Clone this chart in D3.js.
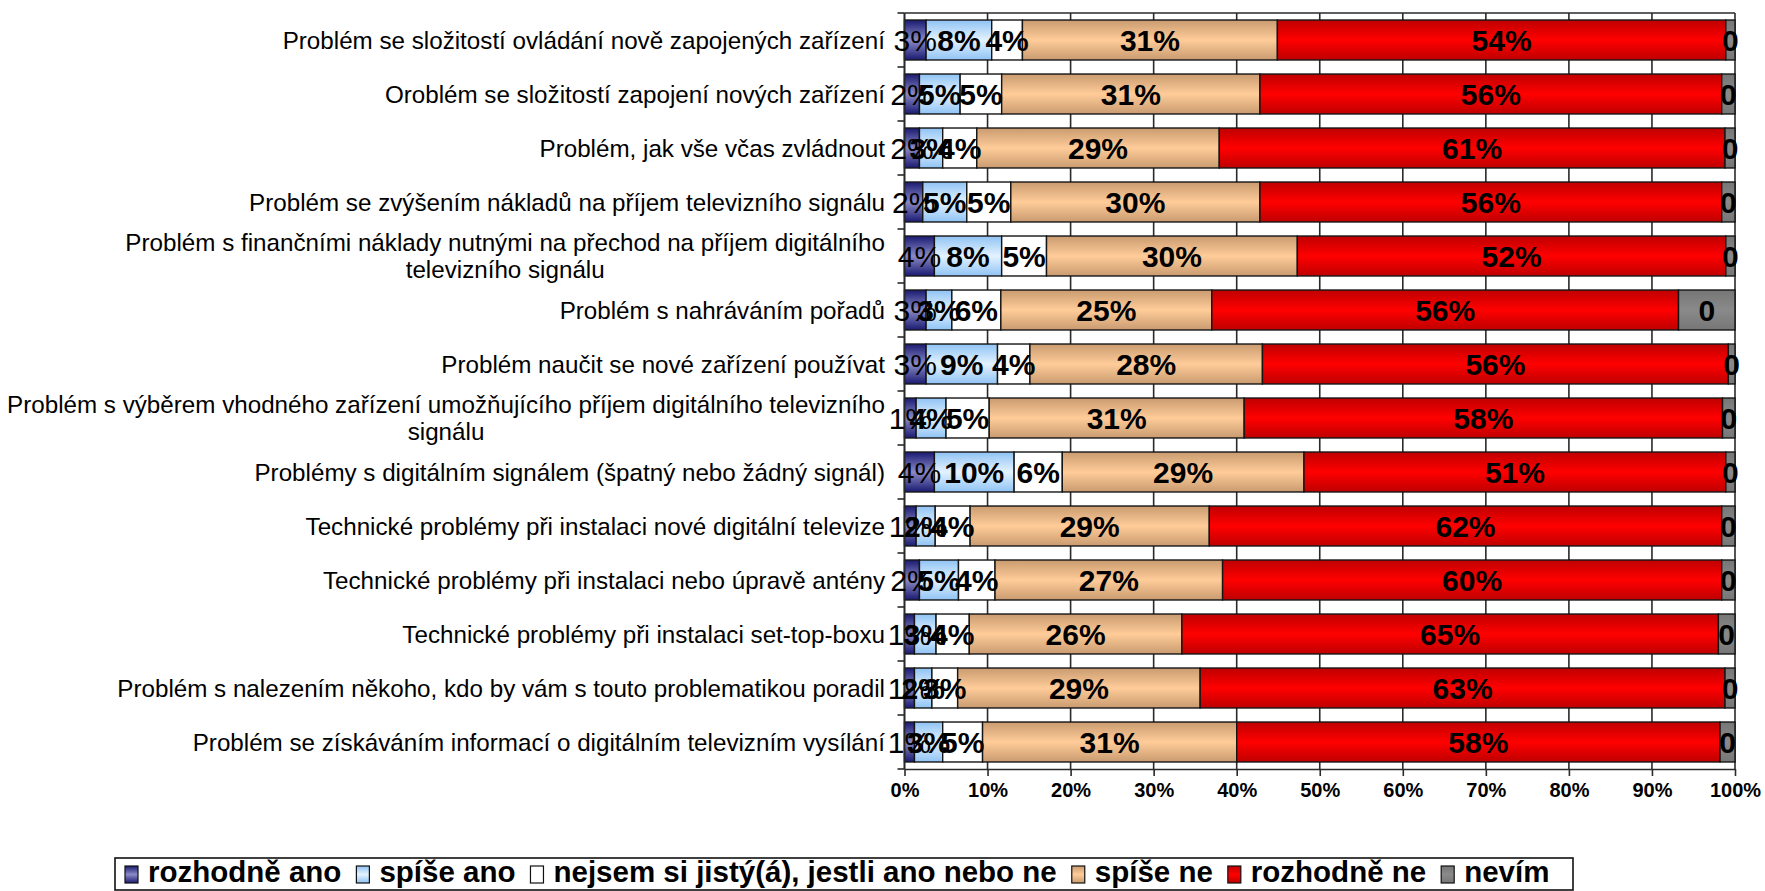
<!DOCTYPE html>
<html>
<head>
<meta charset="utf-8">
<script src="https://cdn.jsdelivr.net/npm/d3@7"></script>
<style>
  body { margin: 0; background: #ffffff; }
  svg { display: block; font-family: "Liberation Sans", Arial, sans-serif; }
</style>
</head>
<body>
<svg id="chart" width="1765" height="891"></svg>
<script>
// ---------- DATA ----------
const categories = [
  "Problém se složitostí ovládání nově zapojených zařízení",
  "Oroblém se složitostí zapojení nových zařízení",
  "Problém, jak vše včas zvládnout",
  "Problém se zvýšením nákladů na příjem televizního signálu",
  "Problém s finančními náklady nutnými na přechod na příjem digitálního\ntelevizního signálu",
  "Problém s nahráváním pořadů",
  "Problém naučit se nové zařízení používat",
  "Problém s výběrem vhodného zařízení umožňujícího příjem digitálního televizního\nsignálu",
  "Problémy s digitálním signálem (špatný nebo žádný signál)",
  "Technické problémy při instalaci nové digitální televize",
  "Technické problémy při instalaci nebo úpravě antény",
  "Technické problémy při instalaci set-top-boxu",
  "Problém s nalezením někoho, kdo by vám s touto problematikou poradil",
  "Problém se získáváním informací o digitálním televizním vysílání"
];
const seriesNames = ["rozhodně ano", "spíše ano", "nejsem si jistý(á), jestli ano nebo ne", "spíše ne", "rozhodně ne", "nevím"];
const rozhodneAno = [2.6, 1.8, 1.8, 2.2, 3.6, 2.6, 2.6, 1.4, 3.6, 1.4, 1.8, 1.2, 1.2, 1.2];
const spiseAno    = [7.9, 4.9, 2.8, 5.3, 8.1, 3.1, 8.6, 3.6, 9.6, 2.3, 4.7, 2.6, 2.1, 3.4];
const nejsem      = [3.7, 5.0, 4.1, 5.3, 5.4, 5.9, 3.9, 5.2, 5.8, 4.2, 4.4, 4.0, 3.1, 4.8];
const spiseNe     = [30.7, 31.1, 29.2, 30.0, 30.2, 25.4, 28.0, 30.7, 29.1, 28.8, 27.4, 25.6, 29.2, 30.6];
const rozhodneNe  = [54.0, 55.6, 60.9, 55.6, 51.6, 56.2, 56.1, 57.6, 50.8, 61.7, 60.1, 64.6, 63.2, 58.2];
const nevim       = [1.1, 1.6, 1.2, 1.6, 1.1, 6.8, 0.8, 1.5, 1.1, 1.6, 1.6, 2.0, 1.2, 1.8];
const xTicks = [0, 0.1, 0.2, 0.3, 0.4, 0.5, 0.6, 0.7, 0.8, 0.9, 1.0];

// ---------- STYLE ----------
const keys = ["a", "b", "c", "d", "e", "f"];
const seriesArrays = [rozhodneAno, spiseAno, nejsem, spiseNe, rozhodneNe, nevim];
const gradStops = [
  ["#1a1a72", "#8a8ac6", "#1a1a72"],
  ["#8fc3f4", "#e4f2ff", "#8fc3f4"],
  ["#ffffff", "#ffffff", "#ffffff"],
  ["#c99b70", "#ffcc99", "#c99b70"],
  ["#bf0000", "#ff0000", "#bf0000"],
  ["#767676", "#8a8a8a", "#767676"]
];
const FONT = '"Liberation Sans", Arial, sans-serif';

const table = categories.map((c, i) => {
  const row = { cat: i };
  keys.forEach((k, j) => row[k] = seriesArrays[j][i]);
  return row;
});
const stacked = d3.stack().keys(keys).offset(d3.stackOffsetExpand)(table);

const svg = d3.select("#chart");
const defs = svg.append("defs");
gradStops.forEach((s, j) => {
  const g = defs.append("linearGradient").attr("id", "g" + j)
    .attr("x1", 0).attr("y1", 0).attr("x2", 0).attr("y2", 1);
  g.append("stop").attr("offset", "0%").attr("stop-color", s[0]);
  g.append("stop").attr("offset", "50%").attr("stop-color", s[1]);
  g.append("stop").attr("offset", "100%").attr("stop-color", s[2]);
});

const plotTop = 13, plotBottom = 769;
const x = d3.scaleLinear().domain([0, 1]).range([904.5, 1735]);
const y = d3.scaleBand().domain(d3.range(categories.length))
  .range([plotTop, plotBottom]).paddingInner(0.26).paddingOuter(0.13);

// gridlines
svg.append("g").selectAll("line").data(xTicks).join("line")
  .attr("x1", d => x(d)).attr("x2", d => x(d))
  .attr("y1", plotTop).attr("y2", plotBottom)
  .attr("stroke", "#2a2a2a").attr("stroke-width", 1.6);
// top border
svg.append("line").attr("x1", x(0)).attr("x2", x(1)).attr("y1", plotTop).attr("y2", plotTop)
  .attr("stroke", "#2a2a2a").attr("stroke-width", 1.6);

// bars
const layers = svg.append("g").selectAll("g").data(stacked).join("g")
  .attr("fill", (d, j) => `url(#g${j})`);
layers.selectAll("rect").data(d => d).join("rect")
  .attr("x", d => x(d[0]))
  .attr("width", d => x(d[1]) - x(d[0]))
  .attr("y", d => y(d.data.cat))
  .attr("height", y.bandwidth())
  .attr("stroke", "#151515").attr("stroke-width", 1.4);

// bottom axis
const xAxis = d3.axisBottom(x).tickValues(xTicks).tickFormat(d3.format(".0%")).tickSize(7).tickSizeOuter(0);
const gx = svg.append("g").attr("transform", `translate(0,${plotBottom})`).call(xAxis);
gx.select(".domain").attr("stroke", "#2a2a2a").attr("stroke-width", 1.6);
gx.selectAll(".tick line").attr("stroke", "#2a2a2a").attr("stroke-width", 1.6);
gx.selectAll(".tick text").attr("font-family", FONT).attr("font-size", "20px")
  .attr("font-weight", "bold").attr("fill", "#000").attr("y", 14).attr("dy", "0.71em");

// left axis line + ticks at band boundaries
svg.append("line").attr("x1", x(0)).attr("x2", x(0)).attr("y1", plotTop).attr("y2", plotBottom)
  .attr("stroke", "#2a2a2a").attr("stroke-width", 1.6);
const step = y.step();
svg.append("g").selectAll("line").data(d3.range(categories.length + 1)).join("line")
  .attr("x1", x(0) - 7).attr("x2", x(0))
  .attr("y1", i => plotTop + i * step).attr("y2", i => plotTop + i * step)
  .attr("stroke", "#2a2a2a").attr("stroke-width", 1.6);

// category labels
const catG = svg.append("g").attr("font-family", FONT).attr("font-size", "24.2px").attr("fill", "#000");
categories.forEach((c, i) => {
  const lines = c.split("\n");
  const cy = y(i) + y.bandwidth() / 2;
  const rightX = 885;
  if (lines.length === 1) {
    catG.append("text").attr("x", rightX).attr("y", cy).attr("dy", "0.36em")
      .attr("text-anchor", "end").text(c);
  } else {
    const t = catG.append("text").attr("text-anchor", "middle");
    const lh = 27;
    lines.forEach((l, k) => {
      t.append("tspan").attr("y", cy + (k - (lines.length - 1) / 2) * lh).attr("dy", "0.36em").text(l);
    });
    const w = d3.max(t.selectAll("tspan").nodes(), n => n.getComputedTextLength());
    t.selectAll("tspan").attr("x", rightX - w / 2);
  }
});

// data labels
const pct = v => Math.round(v) + "%";
const labelFmt = (j, v) => j === 5 ? d3.format(".0f")(v / 100) : pct(v);
const lblG = svg.append("g").attr("font-family", FONT).attr("font-size", "30px").attr("fill", "#000");
stacked.forEach((layer, j) => {
  lblG.append("g").attr("font-weight", j === 0 ? "normal" : "bold")
    .selectAll("text").data(layer).join("text")
    .attr("x", d => (x(d[0]) + x(d[1])) / 2)
    .attr("y", d => y(d.data.cat) + y.bandwidth() / 2)
    .attr("dy", "0.36em").attr("text-anchor", "middle")
    .text(d => labelFmt(j, d.data[keys[j]]));
});

// legend
const lg = svg.append("g");
lg.append("rect").attr("x", 115).attr("y", 858).attr("width", 1458).attr("height", 32)
  .attr("fill", "#fff").attr("stroke", "#111").attr("stroke-width", 1.6);
let lx = 125;
seriesNames.forEach((name, j) => {
  lg.append("rect").attr("x", lx).attr("y", 866).attr("width", 13).attr("height", 17)
    .attr("fill", `url(#g${j})`).attr("stroke", "#111").attr("stroke-width", 1.2);
  const t = lg.append("text").attr("x", lx + 23).attr("y", 882)
    .attr("font-family", FONT).attr("font-size", "29.5px").attr("font-weight", "bold")
    .attr("fill", "#000").text(name);
  lx = lx + 23 + t.node().getComputedTextLength() + 15;
});
</script>
</body>
</html>
